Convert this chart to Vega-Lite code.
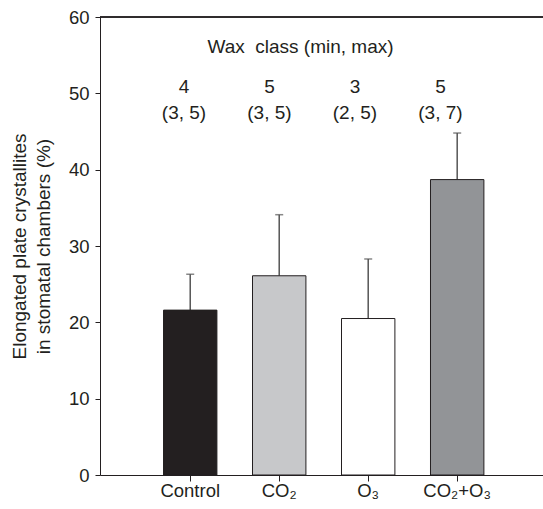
{
  "$schema": "https://vega.github.io/schema/vega-lite/v6.json",
  "width": 443,
  "height": 458,
  "autosize": {"type": "none"},
  "padding": {"left": 100, "top": 17, "right": 0, "bottom": 34},
  "background": "white",
  "config": {
    "font": "Liberation Sans",
    "view": {"stroke": null},
    "axis": {"labelFont": "Liberation Sans", "titleFont": "Liberation Sans", "labelColor": "#231f20", "titleColor": "#231f20", "domainColor": "#231f20", "tickColor": "#231f20", "grid": false}
  },
  "data": {
    "values": [
      {"cat": "Control", "mean": 21.6, "upper": 26.3, "wax": "4", "range": "(3, 5)"},
      {"cat": "CO₂", "mean": 26.1, "upper": 34.1, "wax": "5", "range": "(3, 5)"},
      {"cat": "O₃", "mean": 20.5, "upper": 28.3, "wax": "3", "range": "(2, 5)"},
      {"cat": "CO₂+O₃", "mean": 38.7, "upper": 44.8, "wax": "5", "range": "(3, 7)"}
    ]
  },
  "resolve": {"scale": {"x": "independent"}},
  "layer": [
    {
      "layer": [
        {
          "mark": {"type": "rule", "color": "#555555", "strokeWidth": 1.5},
          "encoding": {
            "x": {"field": "cat", "type": "nominal", "sort": ["Control", "CO₂", "O₃", "CO₂+O₃"]},
            "y": {"field": "mean", "type": "quantitative"},
            "y2": {"field": "upper"}
          }
        },
        {
          "mark": {"type": "tick", "orient": "horizontal", "size": 8, "thickness": 1.5, "color": "#555555"},
          "encoding": {
            "x": {"field": "cat", "type": "nominal", "sort": ["Control", "CO₂", "O₃", "CO₂+O₃"]},
            "y": {"field": "upper", "type": "quantitative"}
          }
        },
        {
          "mark": {"type": "bar", "stroke": "#231f20", "strokeWidth": 1},
          "encoding": {
            "x": {
              "field": "cat", "type": "nominal", "sort": ["Control", "CO₂", "O₃", "CO₂+O₃"],
              "scale": {"type": "band", "paddingInner": 0.4, "paddingOuter": 0.689, "align": 0.518},
              "axis": {"title": null, "labelAngle": 0, "labelAlign": "center", "labelFontSize": 18.5, "tickSize": 6, "labelPadding": 9, "domainWidth": 1}
            },
            "y": {
              "field": "mean", "type": "quantitative",
              "scale": {"domain": [0, 60], "nice": false, "zero": true},
              "axis": {
                "title": ["Elongated plate crystallites", "in stomatal chambers (%)"],
                "titleFontSize": 19, "titleFontWeight": "normal", "titleLineHeight": 24, "titlePadding": 15,
                "values": [0, 10, 20, 30, 40, 50, 60],
                "labelFontSize": 18.5, "tickSize": 5, "labelPadding": 6, "domainWidth": 1
              }
            },
            "color": {
              "field": "cat", "type": "nominal",
              "scale": {"domain": ["Control", "CO₂", "O₃", "CO₂+O₃"], "range": ["#231f20", "#c7c8ca", "#ffffff", "#929497"]},
              "legend": null
            }
          }
        },
        {
          "mark": {"type": "rule", "color": "#231f20", "strokeWidth": 1},
          "encoding": {"y": {"datum": 60, "type": "quantitative"}}
        }
      ]
    },
    {
      "layer": [
        {
          "mark": {"type": "text", "fontSize": 19, "color": "#231f20", "baseline": "middle"},
          "encoding": {
            "x": {"field": "cat", "type": "nominal", "sort": ["Control", "CO₂", "O₃", "CO₂+O₃"], "scale": {"type": "band", "paddingInner": 0, "paddingOuter": 0.591, "align": 0.408}, "axis": null},
            "y": {"datum": 50.8, "type": "quantitative"},
            "text": {"field": "wax"}
          }
        },
        {
          "mark": {"type": "text", "fontSize": 19, "color": "#231f20", "baseline": "middle"},
          "encoding": {
            "x": {"field": "cat", "type": "nominal", "sort": ["Control", "CO₂", "O₃", "CO₂+O₃"], "axis": null},
            "y": {"datum": 47.4, "type": "quantitative"},
            "text": {"field": "range"}
          }
        },
        {
          "data": {"values": [{"cat": "CO₂", "label": "Wax\u00a0 class (min, max)"}]},
          "mark": {"type": "text", "fontSize": 19, "color": "#231f20", "baseline": "middle", "dx": 31},
          "encoding": {
            "x": {"field": "cat", "type": "nominal", "sort": ["Control", "CO₂", "O₃", "CO₂+O₃"], "axis": null},
            "y": {"datum": 56.1, "type": "quantitative"},
            "text": {"field": "label"}
          }
        }
      ]
    }
  ]
}
